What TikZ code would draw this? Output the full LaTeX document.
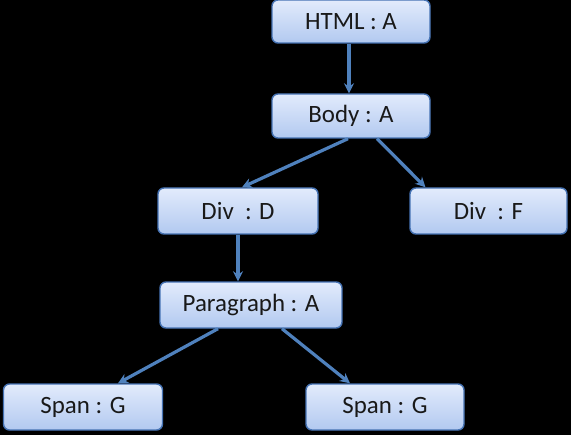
\documentclass[tikz,border=0pt]{standalone}
\usepackage{fontspec}
\setmainfont{Carlito}
\usetikzlibrary{arrows.meta}
\definecolor{edgeblue}{RGB}{79,129,189}
\definecolor{boxtop}{RGB}{226,235,252}
\definecolor{boxbot}{RGB}{178,201,240}
\definecolor{boxline}{RGB}{70,115,180}
\definecolor{txt}{RGB}{25,25,25}
\tikzset{
  treebox/.style={draw=boxline, line width=1.4bp, rounded corners=6bp,
    top color=boxtop, bottom color=boxbot, text=txt,
    font=\fontsize{25}{29}\selectfont, inner sep=0pt, minimum height=45bp},
  conn/.style={draw=edgeblue, line width=3.2bp, -{Stealth[length=10bp,width=10bp]}}
}
\begin{document}
\begin{tikzpicture}[x=1bp,y=-1bp]
\fill[black] (0,0) rectangle (571,435);
\useasboundingbox (0,0) rectangle (571,435);
\node[treebox, minimum width=158bp, minimum height=43bp] (html) at (351,21.5) {HTML : A};
\node[treebox, minimum width=158bp, minimum height=44bp] (body) at (351,116) {Body : A};
\node[treebox, minimum width=160bp, minimum height=46bp] (divd) at (238,211) {Div~ : D};
\node[treebox, minimum width=157bp, minimum height=46bp] (divf) at (488.5,211) {Div~ : F};
\node[treebox, minimum width=182bp, minimum height=46bp] (para) at (251,305) {Paragraph : A};
\node[treebox, minimum width=159bp, minimum height=46bp] (spana) at (83,407) {Span : G};
\node[treebox, minimum width=158bp, minimum height=46bp] (spanb) at (385,407) {Span : G};
\draw[conn] ([xshift=-2bp]html.south) -- ([xshift=-2bp]body.north);
\draw[conn] ([xshift=-3bp]body.south) -- ([xshift=4bp]divd.north);
\draw[conn] ([xshift=26bp]body.south) -- ([xshift=-63bp]divf.north);
\draw[conn] (divd.south) -- (divd.south |- para.north);
\draw[conn] ([xshift=-33bp]para.south) -- ([xshift=35bp]spana.north);
\draw[conn] ([xshift=31bp]para.south) -- ([xshift=-35bp]spanb.north);
\end{tikzpicture}
\end{document}
